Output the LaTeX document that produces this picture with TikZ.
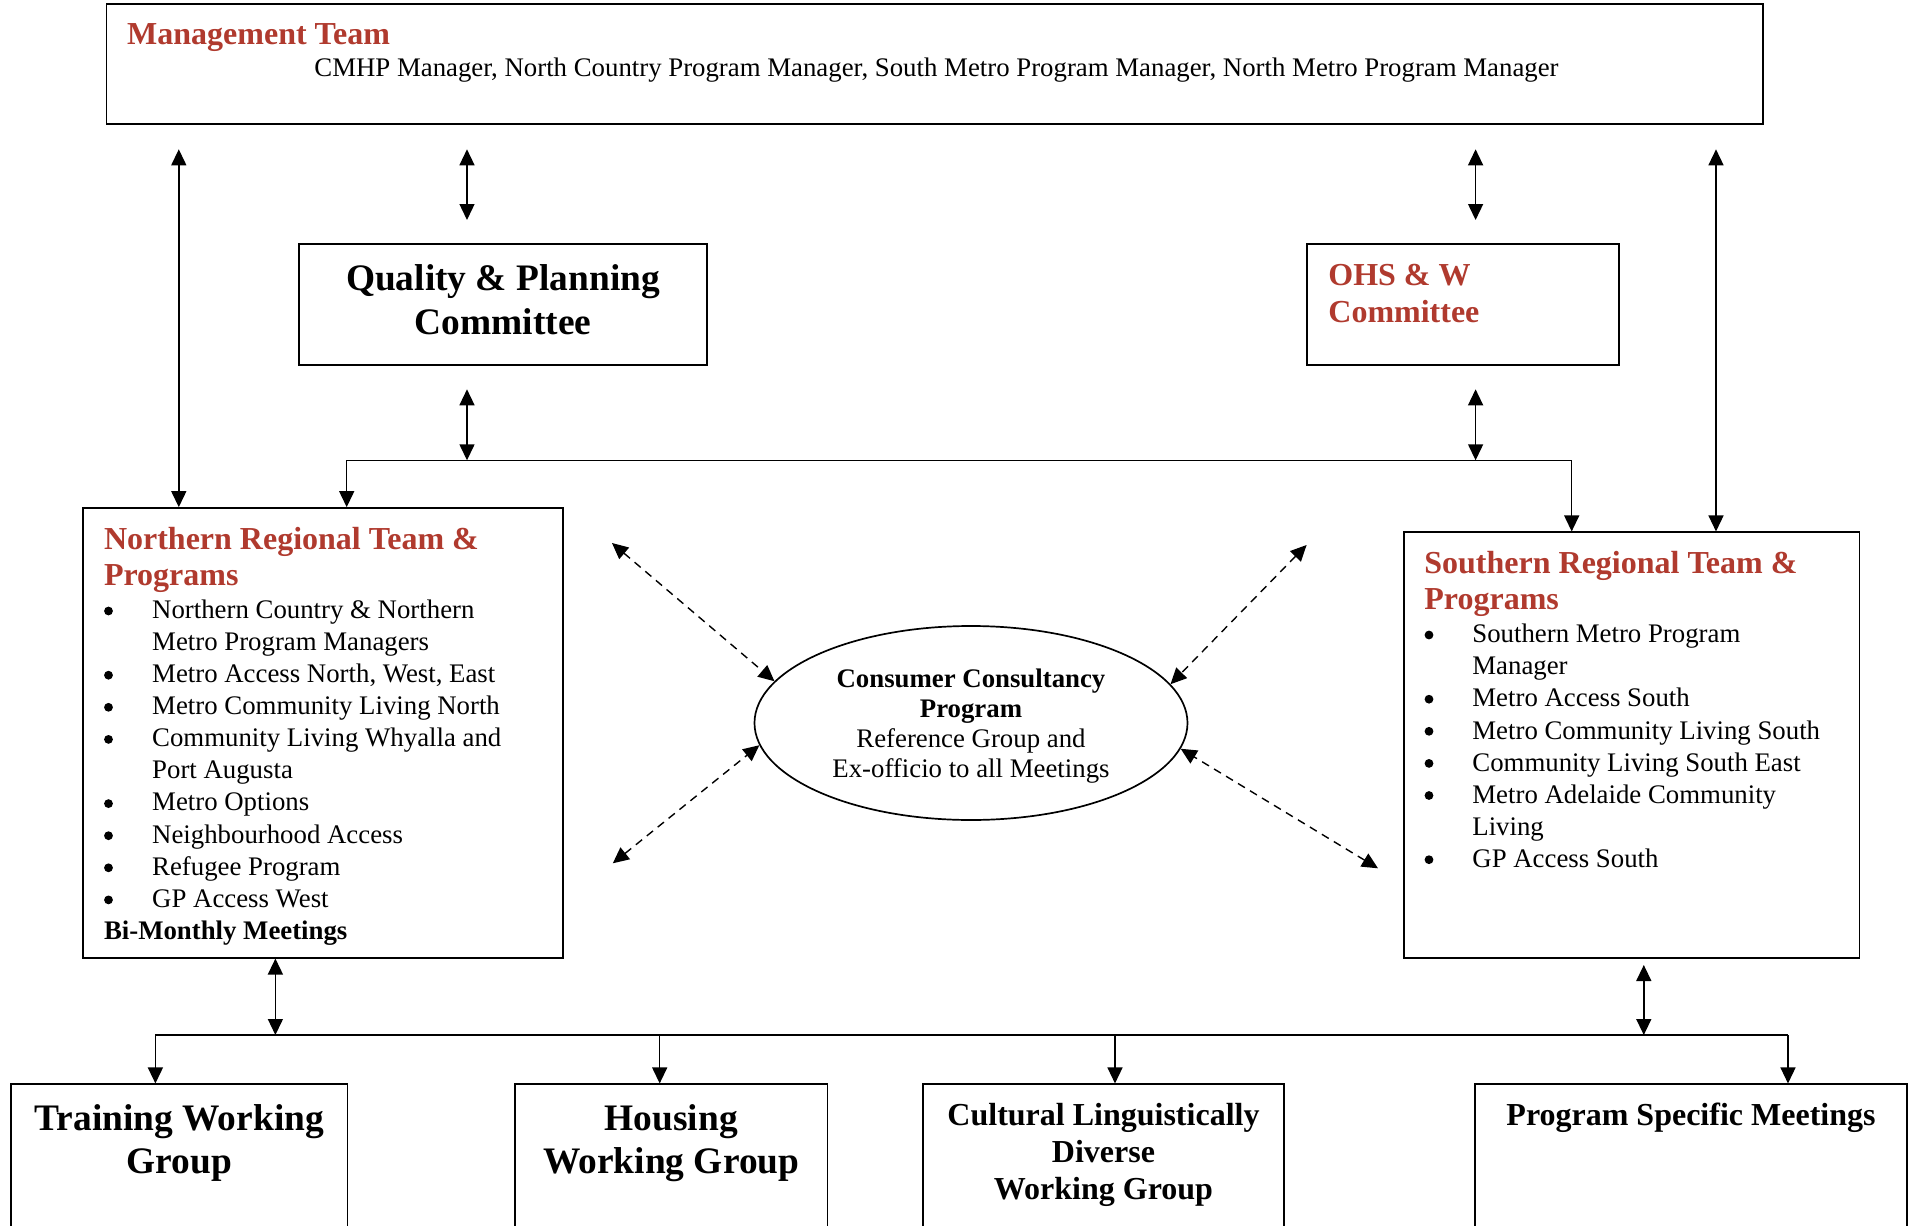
\documentclass[tikz,border=0pt]{standalone}
\usepackage{fontspec}
\setmainfont{Liberation Serif}
\usetikzlibrary{arrows.meta,shapes.geometric,fit}

\definecolor{headred}{RGB}{176,58,46}

\tikzset{
  box/.style={draw, line width=0.85pt, inner sep=0pt},
  ln/.style={line width=0.7pt},
  dbl/.style={ln, {Triangle[length=8pt,width=7.5pt]}-{Triangle[length=8pt,width=7.5pt]}},
  sgl/.style={ln, -{Triangle[length=8pt,width=7.5pt]}},
  dsh/.style={dbl, dash pattern=on 4pt off 3pt},
  head/.style={anchor=base west, inner sep=0pt, text=headred, font=\fontsize{16}{18}\selectfont\bfseries},
  body/.style={anchor=base west, inner sep=0pt, font=\fontsize{13.4}{16}\selectfont},
  dot/.style={circle, fill, inner sep=0pt, minimum size=4.4pt},
  big/.style={anchor=base, inner sep=0pt, font=\fontsize{18.7}{21.5}\selectfont\bfseries},
  mid/.style={anchor=base, inner sep=0pt, font=\fontsize{16}{18}\selectfont\bfseries},
}

\begin{document}
\begin{tikzpicture}[x=0.5pt,y=-0.5pt]
  \clip (0,0) rectangle (1919,1226);
  \fill[white] (0,0) rectangle (1919,1226);

  \node[box, fit={(106.5,4.3) (1763,124.3)}] (mgmt) {};
  \node[head] (mgmtT) at (126.8,45) {Management Team};
  \node[body] (mgmtL) at (314,76.5) {CMHP Manager, North Country Program Manager, South Metro Program Manager, North Metro Program Manager};

  \node[box, fit={(298.8,244.3) (707.3,365)}] (qpc) {};
  \node[big] (qpc1) at (503,290.5) {Quality \& Planning};
  \node[big] (qpc2) at (503,334) {Committee};

  \node[box, fit={(1307,244.3) (1619.3,365)}] (ohs) {};
  \node[head] (ohs1) at (1328,285.5) {OHS \& W};
  \node[head] (ohs2) at (1328,322.5) {Committee};

  \node[box, fit={(83,508) (563,957.7)}] (nrt) {};
  \node[head] (nrt1) at (103.6,549.5) {Northern Regional Team \&};
  \node[head] (nrt2) at (103.6,585.5) {Programs};
  \foreach \b/\txt [count=\i from 0] in {1/Northern Country \& Northern, 0/Metro Program Managers,
      1/{Metro Access North, West, East}, 1/Metro Community Living North, 1/Community Living Whyalla and,
      0/Port Augusta, 1/Metro Options, 1/Neighbourhood Access, 1/Refugee Program, 1/GP Access West} {
    \node[body] (nl\i) at (151.8,618.3+32.1*\i) {\txt};
    \ifnum\b=1 \node[dot] (nb\i) at (108.5,611+32.1*\i) {}; \fi
  }
  \node[body, font=\fontsize{13.4}{16}\selectfont\bfseries] (nrtM) at (103.6,939.3) {Bi-Monthly Meetings};

  \node[box, fit={(1404,532.3) (1859.5,957.7)}] (srt) {};
  \node[head] (srt1) at (1424,573.5) {Southern Regional Team \&};
  \node[head] (srt2) at (1424,609) {Programs};
  \foreach \b/\txt [count=\i from 0] in {1/Southern Metro Program, 0/Manager, 1/Metro Access South,
      1/Metro Community Living South, 1/Community Living South East, 1/Metro Adelaide Community,
      0/Living, 1/GP Access South} {
    \node[body] (sl\i) at (1472,642.7+32.1*\i) {\txt};
    \ifnum\b=1 \node[dot] (sb\i) at (1429,635+32.1*\i) {}; \fi
  }

  \node[draw, ellipse, line width=0.85pt, minimum width=216.5pt, minimum height=97pt, inner sep=0pt] (ccp) at (971,723) {};
  \node[align=center, inner sep=0pt, font=\fontsize{13.4}{15}\selectfont] (ccpT) at (971,726)
    {\textbf{Consumer Consultancy}\\\textbf{Program}\\Reference Group and\\Ex-officio to all Meetings};

  \node[box, fit={(11,1084.3) (347.6,1260)}] (trn) {};
  \node[big] (trn1) at (179.3,1130.5) {Training Working};
  \node[big] (trn2) at (179.3,1173.5) {Group};

  \node[box, fit={(515.3,1084.3) (827.4,1260)}] (hsg) {};
  \node[big] (hsg1) at (671.3,1130.5) {Housing};
  \node[big] (hsg2) at (671.3,1173.5) {Working Group};

  \node[box, fit={(923,1084.3) (1284,1260)}] (cld) {};
  \node[mid] (cld1) at (1103.5,1125.5) {Cultural Linguistically};
  \node[mid] (cld2) at (1103.5,1162.5) {Diverse};
  \node[mid] (cld3) at (1103.5,1199.5) {Working Group};

  \node[box, fit={(1475,1084.3) (1907,1260)}] (psm) {};
  \node[mid] (psm1) at (1691,1125.5) {Program Specific Meetings};

  \coordinate (mL) at (178.8,149.3);
  \coordinate (mR) at (1716,149.3);
  \draw[dbl] (mL) -- (mL |- nrt.north);
  \draw[dbl] (mR) -- (mR |- srt.north);

  \coordinate (qT1) at (467,149.3);
  \coordinate (qT2) at (467,220);
  \coordinate (oT1) at (1475.6,149.3);
  \coordinate (oT2) at (1475.6,220);
  \draw[dbl] (qT1) -- (qT2);
  \draw[dbl] (oT1) -- (oT2);

  \coordinate (busL) at (346.7,460.3);
  \coordinate (busR) at (1571.7,460.3);
  \coordinate (qB) at (467,389.3);
  \coordinate (oB) at (1475.6,389.3);
  \draw[dbl] (busL |- nrt.north) -- (busL) -- (busR) -- (busR |- srt.north);
  \draw[dbl] (qB) -- (qB |- busL);
  \draw[dbl] (oB) -- (oB |- busR);

  \coordinate (ccNW) at (612,543);
  \coordinate (ccNE) at (1306.6,545);
  \coordinate (ccSW) at (612.8,863.3);
  \coordinate (ccSE) at (1378,868.3);
  \draw[dsh] (ccNW) -- (ccp.168);
  \draw[dsh] (ccNE) -- (ccp.11);
  \draw[dsh] (ccSW) -- (ccp.186);
  \draw[dsh] (ccSE) -- (ccp.353);

  \coordinate (bbL) at (155.4,1035);
  \coordinate (bbR) at (1788,1035);
  \coordinate (nB) at (275.4,1035);
  \coordinate (sT) at (1643.8,965);
  \draw[ln, line width=1pt] (bbL) -- (bbR);
  \draw[dbl] (nB |- nrt.south) -- (nB);
  \draw[dbl] (sT) -- (sT |- bbR);
  \foreach \x/\bx in {155.4/trn, 659.7/hsg, 1115/cld, 1788/psm} {
    \coordinate (drop) at (\x,1035);
    \draw[sgl] (drop) -- (drop |- \bx.north);
  }
\end{tikzpicture}
\end{document}
